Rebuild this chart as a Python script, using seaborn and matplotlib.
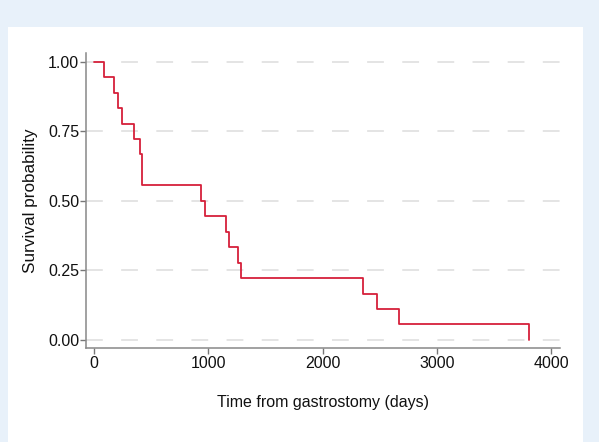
import matplotlib
matplotlib.use("Agg")
import matplotlib.pyplot as plt
import seaborn as sns
from matplotlib.patches import Rectangle

# Kaplan-Meier steps
days = [0, 87, 178, 213, 242, 350, 402, 420, 937, 974, 1152, 1181, 1263, 1289,
        2356, 2473, 2666, 3809]
survival = [1.000, 0.944, 0.889, 0.833, 0.778, 0.722, 0.667, 0.556, 0.500, 0.444,
            0.389, 0.333, 0.278, 0.222, 0.167, 0.111, 0.056, 0.000]
y_ticks = [0.00, 0.25, 0.50, 0.75, 1.00]
x_ticks = [0, 1000, 2000, 3000, 4000]

sns.set_theme(style="white")
plt.rcParams["font.family"] = ["Liberation Sans", "DejaVu Sans"]

fig = plt.figure(figsize=(5.99, 4.42), dpi=100)
fig.patch.set_facecolor("#e8f1fa")
fig.patches.append(Rectangle((8 / 599, 0), 575 / 599, 415 / 442, transform=fig.transFigure,
                             facecolor="white", edgecolor="none", zorder=-10))

ax = fig.add_axes([86 / 599, 94 / 442, 474 / 599, 295 / 442])
ax.set_facecolor("none")

for y in y_ticks:
    ax.axhline(y, color="#dddddd", lw=1.1, linestyle=(0, (11, 12)), zorder=1)

sns.lineplot(x=days, y=survival, drawstyle="steps-post", estimator=None,
             color="#d6203a", lw=1.3, ax=ax, zorder=3)

ax.set_xlim(-70, 4077)
ax.set_ylim(-0.029, 1.032)
ax.set_xticks(x_ticks)
ax.set_yticks(y_ticks)
ax.set_yticklabels([f"{v:.2f}" for v in y_ticks])
ax.tick_params(axis="both", direction="out", length=4, width=1, color="#777777",
               labelsize=11.5, labelcolor="#111111", left=True, bottom=True)
ax.tick_params(axis="y", pad=1)
ax.tick_params(axis="x", pad=2)

for side in ["top", "right"]:
    ax.spines[side].set_visible(False)
for side in ["left", "bottom"]:
    ax.spines[side].set_color("#888888")
    ax.spines[side].set_linewidth(1.1)

ax.set_xlabel("Time from gastrostomy (days)", fontsize=11.5, color="#111111", labelpad=17)
ax.set_ylabel("Survival probability", fontsize=12.3, color="#111111", labelpad=7)

fig.savefig("out.png", dpi=100)
